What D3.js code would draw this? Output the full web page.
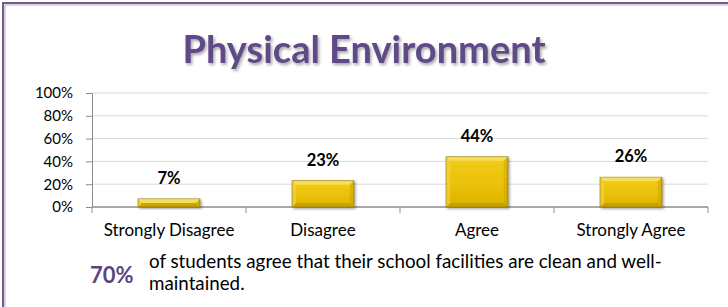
<!DOCTYPE html>
<html>
<head>
<meta charset="utf-8">
<script src="https://cdn.jsdelivr.net/npm/d3@7"></script>
<style>
  body { margin: 0; background: #fff; }
  svg text { font-family: Lato, "Open Sans", sans-serif; }
</style>
</head>
<body>
<svg id="chart"></svg>
<script>
// chart data
const categories = ["Strongly Disagree", "Disagree", "Agree", "Strongly Agree"];
const values = [7, 23, 44, 26];
const yTicks = [0, 20, 40, 60, 80, 100];
const titleText = "Physical Environment";
const highlightValue = "70%";
const noteLines = ["of students agree that their school facilities are clean and well-", "maintained."];

const W = 728, H = 307;
const margin = {top: 93, right: 20, bottom: 100, left: 92};

const svg = d3.select("#chart").attr("width", W).attr("height", H);

const defs = svg.append("defs");
const grad = defs.append("linearGradient").attr("id", "gold").attr("x1", 0).attr("y1", 0).attr("x2", 0).attr("y2", 1);
grad.append("stop").attr("offset", "0%").attr("stop-color", "#f2cc1c");
grad.append("stop").attr("offset", "50%").attr("stop-color", "#ebc20a");
grad.append("stop").attr("offset", "100%").attr("stop-color", "#dcb300");

const shadow = defs.append("filter").attr("id", "shadow").attr("x", "-20%").attr("y", "-20%").attr("width", "150%").attr("height", "150%");
shadow.append("feDropShadow").attr("dx", 1.5).attr("dy", 1.5).attr("stdDeviation", 1.2).attr("flood-color", "#000").attr("flood-opacity", 0.35);

const titleShadow = defs.append("filter").attr("id", "tshadow").attr("x", "-10%").attr("y", "-30%").attr("width", "130%").attr("height", "180%");
titleShadow.append("feDropShadow").attr("dx", 1.5).attr("dy", 2).attr("stdDeviation", 1.5).attr("flood-color", "#000").attr("flood-opacity", 0.35);

// frame (cropped at right and bottom)
svg.append("path")
  .attr("d", `M3,${H} L3,3 L${W},3`)
  .attr("fill", "none")
  .attr("stroke", "#6f5a96")
  .attr("stroke-width", 2);
svg.append("path")
  .attr("d", `M5,${H} L5,5 L${W},5`)
  .attr("fill", "none")
  .attr("stroke", "#b3a4cc")
  .attr("stroke-width", 1);

svg.append("text")
  .attr("x", 364).attr("y", 63)
  .attr("text-anchor", "middle")
  .attr("font-size", 38).attr("font-weight", 700)
  .attr("fill", "#5f4a86")
  .attr("filter", "url(#tshadow)")
  .text(titleText);

const width = 708 - margin.left;
const height = 207 - margin.top;

const g = svg.append("g").attr("transform", `translate(${margin.left},${margin.top})`);

const x = d3.scaleBand().domain(categories).range([0, width]).paddingInner(0.6).paddingOuter(0.3);
const y = d3.scaleLinear().domain([0, 100]).range([height, 0]);

// gridlines
g.append("g")
  .selectAll("line")
  .data(yTicks.filter(d => d > 0))
  .join("line")
  .attr("x1", 0).attr("x2", width)
  .attr("y1", d => y(d)).attr("y2", d => y(d))
  .attr("stroke", "#d9d9d9").attr("stroke-width", 1);

// y axis
const yAxis = g.append("g")
  .call(d3.axisLeft(y).tickValues(yTicks).tickFormat(d => d + "%").tickSize(6).tickPadding(13));
yAxis.select(".domain").attr("stroke", "#8c8c8c");
yAxis.selectAll(".tick line").attr("stroke", "#8c8c8c");
yAxis.selectAll("text").attr("font-size", 15).attr("fill", "#000").attr("font-family", "Lato, sans-serif");

// x axis baseline with category dividers
const xBoundaries = d3.range(categories.length + 1).map(i => i * width / categories.length);
g.append("line")
  .attr("x1", 0).attr("x2", width)
  .attr("y1", height).attr("y2", height)
  .attr("stroke", "#8c8c8c").attr("stroke-width", 1.5);
g.append("g").selectAll("line")
  .data(xBoundaries)
  .join("line")
  .attr("x1", d => d).attr("x2", d => d)
  .attr("y1", height).attr("y2", height + 6)
  .attr("stroke", "#8c8c8c");

g.append("g").selectAll("text")
  .data(categories)
  .join("text")
  .attr("x", d => x(d) + x.bandwidth() / 2)
  .attr("y", height + 29)
  .attr("text-anchor", "middle")
  .attr("font-size", 17)
  .attr("fill", "#000")
  .text(d => d);

// bars
const bars = g.append("g").selectAll("g")
  .data(values)
  .join("g")
  .attr("transform", (d, i) => `translate(${x(categories[i])},${y(d)})`);

bars.append("rect")
  .attr("width", x.bandwidth())
  .attr("height", d => height - y(d))
  .attr("fill", "url(#gold)")
  .attr("stroke", "#8f7a10")
  .attr("stroke-width", 1)
  .attr("filter", "url(#shadow)");

// bevel edges
const bev = 4;
bars.append("path")
  .attr("d", d => {
    const w = x.bandwidth(), h = height - y(d), b = Math.min(bev, h / 2);
    return `M0,0 L${w},0 L${w - b},${b} L${b},${b} Z`;
  })
  .attr("fill", "#f8e36a").attr("opacity", 0.8);
bars.append("path")
  .attr("d", d => {
    const w = x.bandwidth(), h = height - y(d), b = Math.min(bev, h / 2);
    return `M0,${h} L${w},${h} L${w - b},${h - b} L${b},${h - b} Z`;
  })
  .attr("fill", "#b89400").attr("opacity", 0.6);
bars.append("path")
  .attr("d", d => {
    const w = x.bandwidth(), h = height - y(d), b = Math.min(bev, h / 2);
    return `M${w},0 L${w},${h} L${w - b},${h - b} L${w - b},${b} Z`;
  })
  .attr("fill", "#c9a400").attr("opacity", 0.5);
bars.append("path")
  .attr("d", d => {
    const h = height - y(d), b = Math.min(bev, h / 2);
    return `M0,0 L0,${h} L${b},${h - b} L${b},${b} Z`;
  })
  .attr("fill", "#f3d543").attr("opacity", 0.6);

// value labels
g.append("g").selectAll("text")
  .data(values)
  .join("text")
  .attr("x", (d, i) => x(categories[i]) + x.bandwidth() / 2)
  .attr("y", d => y(d) - 15)
  .attr("text-anchor", "middle")
  .attr("font-size", 16.5)
  .attr("font-weight", 700)
  .attr("fill", "#000")
  .text(d => d + "%");

// footer note
svg.append("text")
  .attr("x", 90).attr("y", 283)
  .attr("font-size", 22).attr("font-weight", 700)
  .attr("fill", "#5a4582")
  .text(highlightValue);

svg.append("text")
  .attr("x", 149).attr("y", 268)
  .attr("font-size", 18.8)
  .attr("fill", "#000")
  .selectAll("tspan")
  .data(noteLines)
  .join("tspan")
  .attr("x", 149)
  .attr("dy", (d, i) => i === 0 ? 0 : 22)
  .text(d => d);
</script>
</body>
</html>
